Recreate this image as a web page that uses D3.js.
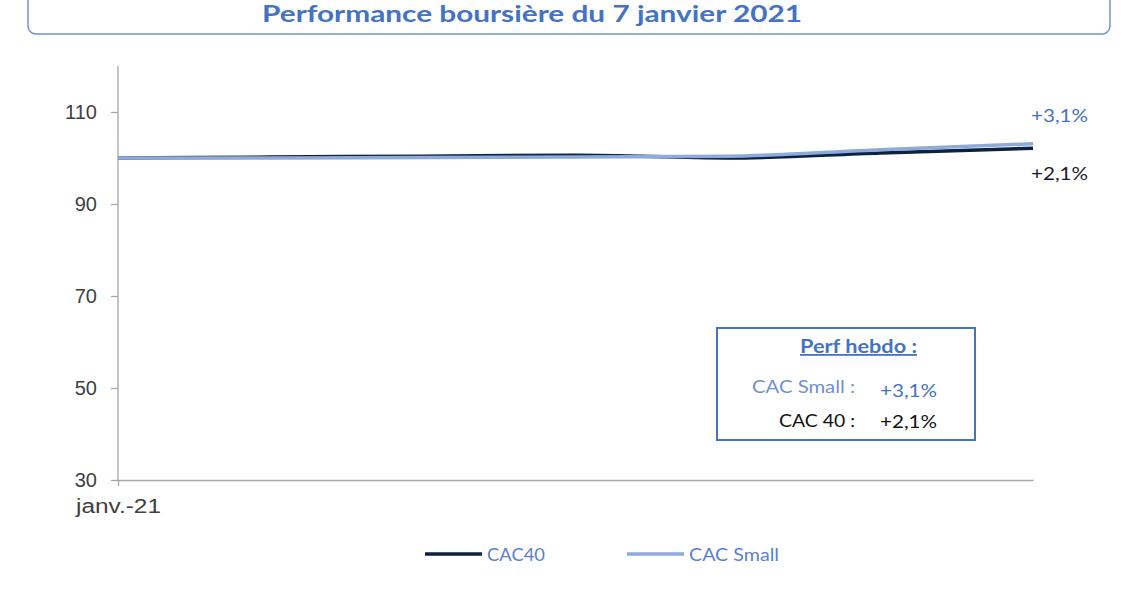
<!DOCTYPE html>
<html><head><meta charset="utf-8">
<script src="https://cdn.jsdelivr.net/npm/d3@7"></script>
<style>body{margin:0;background:#fff}svg{display:block}</style>
</head><body>
<svg id="c" width="1128" height="597"></svg>
<script>
const dates = ["2020-12-31","2021-01-04","2021-01-05","2021-01-06","2021-01-07","2021-01-08","2021-01-11"];
const cac40 = [100, 100.2, 100.4, 100.6, 100.0, 101.1, 102.1];
const cacSmall = [100, 100.0, 100.1, 100.2, 100.4, 101.8, 103.1];
const yTicks = [30, 50, 70, 90, 110];
const xLabels = ["janv.-21"];
const seriesNames = ["CAC40", "CAC Small"];
const perfLabels = ["+2,1%", "+3,1%"];

const svg = d3.select("#c");
const navy = "#0c2340", light = "#8eaadb", blue = "#4472c4";
const lblFont = "Lato, 'Open Sans', sans-serif";
const axFont = "'Liberation Sans', Arial, sans-serif";

function txt(xp, yp, s, o) {
  const t = svg.append("text").attr("x",xp).attr("y",yp).attr("font-family",o.font||lblFont)
    .attr("font-size",o.size||16).attr("fill",o.fill||"#000").text(s);
  if (o.anchor) t.attr("text-anchor",o.anchor);
  if (o.weight) t.attr("font-weight",o.weight);
  if (o.len) t.attr("textLength",o.len).attr("lengthAdjust","spacingAndGlyphs");
  if (o.deco) t.attr("text-decoration",o.deco);
  return t;
}

// title box
svg.append("rect").attr("x",28).attr("y",-10).attr("width",1082).attr("height",44)
  .attr("rx",8).attr("fill","#fff").attr("stroke","#6f93d8").attr("stroke-width",1.5);
txt(532, 22, "Performance boursière du  7 janvier 2021", {anchor:"middle", weight:"bold", size:22, fill:blue, len:540});

const x = d3.scalePoint().domain(d3.range(dates.length)).range([118,1033]);
const y = d3.scaleLinear().domain([30,120]).range([480,66]);

// y axis
const ya = svg.append("g").attr("transform","translate(118,0)")
  .call(d3.axisLeft(y).tickValues(yTicks).tickSize(7).tickPadding(14));
ya.select(".domain").attr("stroke","#a6a6a6").attr("stroke-width",1.3).attr("d","M0,66V480");
ya.selectAll(".tick line").attr("stroke","#a6a6a6").attr("stroke-width",1.3);
ya.selectAll("text").attr("font-family",axFont).attr("font-size",20).attr("fill","#404040");

// x axis
const xa = svg.append("g").attr("transform","translate(0,480)")
  .call(d3.axisBottom(x).tickValues([0]).tickFormat((d,i)=>xLabels[i]).tickSize(6).tickPadding(13).tickSizeOuter(0));
xa.select(".domain").attr("stroke","#a6a6a6").attr("stroke-width",1.3);
xa.selectAll(".tick line").attr("stroke","#a6a6a6").attr("stroke-width",1.3);
xa.selectAll("text").attr("font-family",axFont).attr("font-size",20).attr("fill","#404040")
  .attr("textLength",85).attr("lengthAdjust","spacingAndGlyphs");

const line = d3.line().x((d,i)=>x(i)).y(d=>y(d)).curve(d3.curveMonotoneX);
svg.append("path").datum(cac40).attr("d",line).attr("fill","none").attr("stroke",navy).attr("stroke-width",3.5);
svg.append("path").datum(cacSmall).attr("d",line).attr("fill","none").attr("stroke",light).attr("stroke-width",3.5);

txt(1031, 122, perfLabels[1], {size:17, fill:blue, len:57});
txt(1031, 180, perfLabels[0], {size:17, fill:"#1a1a2e", len:57});

// perf box
svg.append("rect").attr("x",717).attr("y",328).attr("width",258).attr("height",112)
  .attr("fill","#fff").attr("stroke",blue).attr("stroke-width",2);
txt(800, 353, "Perf hebdo :", {weight:"bold", size:18, fill:blue, deco:"underline", len:117});
txt(752, 393, "CAC Small :", {size:18, fill:"#6f8fd6", len:103});
txt(880, 397, perfLabels[1], {size:17, fill:blue, len:57});
txt(779, 427, "CAC 40 :", {size:18, fill:"#111", len:76});
txt(880, 428, perfLabels[0], {size:17, fill:"#111", len:57});

// legend
const leg = [{n:seriesNames[0],c:navy,x:425,w:58},{n:seriesNames[1],c:light,x:627,w:90}];
leg.forEach(l=>{
  svg.append("line").attr("x1",l.x).attr("x2",l.x+57).attr("y1",554).attr("y2",554)
    .attr("stroke",l.c).attr("stroke-width",3.5);
  txt(l.x+62, 561, l.n, {size:17, fill:"#5b7fd0", len:l.w});
});
</script>
</body></html>
